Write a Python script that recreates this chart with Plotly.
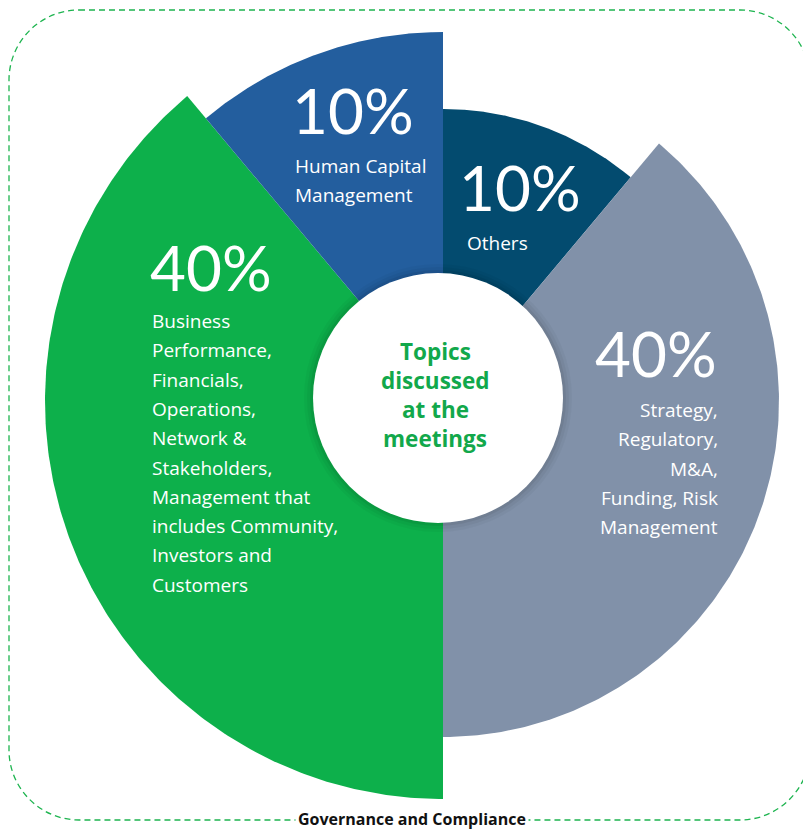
"""
Topics discussed at the meetings - variable radius pie drawn on a pixel-scaled cartesian axis
"""
import numpy as np
import plotly.graph_objects as go

# segments clockwise from 12 o'clock
segments = ["Others", "Strategy", "Business", "Human Capital"]
pct_labels = ["10%", "40%", "40%", "10%"]
spans_deg = [40, 140, 140, 40]          # angular width as drawn in the picture
outer_r = [292, 336, 398, 369]          # outer radius of each wedge
colors = ["#034b6f", "#8191a9", "#0db04b", "#235e9e"]

desc_lines = [
    ["Others"],
    ["Strategy,", "Regulatory,", "M&A,", "Funding, Risk", "Management"],
    ["Business", "Performance,", "Financials,", "Operations,", "Network &", "Stakeholders,",
     "Management that", "includes Community,", "Investors and", "Customers"],
    ["Human Capital", "Management"],
]
center_lines = ["Topics", "discussed", "at the", "meetings"]
footer = "Governance and Compliance"

# page has an 8px body margin, so the figure is 8px smaller and the axes start at 8
OFF = 8
W, H = 811, 829
cx, cy = 443, 401
FONT = "Open Sans"
BIG = "Lato"

fig = go.Figure()

start = 0.0
for name, span, r, col in zip(segments, spans_deg, outer_r, colors):
    th = np.radians(np.linspace(start, start + span, 240))
    xs = np.concatenate([[cx], cx + r * np.sin(th), [cx]])
    ys = np.concatenate([[cy], cy - r * np.cos(th), [cy]])
    fig.add_trace(go.Scatter(x=xs, y=ys, mode="lines", fill="toself", fillcolor=col,
                             line=dict(width=0, color=col), hoverinfo="skip", name=name))
    start += span

# white centre disc with a soft shadow
ccx, ccy, cr = 438, 398, 125
for dr, a in [(9, 0.03), (6, 0.04), (3, 0.06)]:
    fig.add_shape(type="circle", x0=ccx - cr - dr, x1=ccx + cr + dr, y0=ccy - cr - dr, y1=ccy + cr + dr,
                  fillcolor=f"rgba(0,0,0,{a})", line=dict(width=0))
fig.add_shape(type="circle", x0=ccx - cr, x1=ccx + cr, y0=ccy - cr, y1=ccy + cr,
              fillcolor="white", line=dict(width=0))

# dashed rounded frame
x0, x1, y0, y1, rr = 9, 810, 10, 820, 70
k = rr * 0.55
frame = (f"M {x0+rr},{y0} L {x1-rr},{y0} C {x1-rr+k},{y0} {x1},{y0+rr-k} {x1},{y0+rr} "
         f"L {x1},{y1-rr} C {x1},{y1-rr+k} {x1-rr+k},{y1} {x1-rr},{y1} "
         f"L {x0+rr},{y1} C {x0+rr-k},{y1} {x0},{y1-rr+k} {x0},{y1-rr} "
         f"L {x0},{y0+rr} C {x0},{y0+rr-k} {x0+rr-k},{y0} {x0+rr},{y0} Z")
fig.add_shape(type="path", path=frame, line=dict(color="#1db44f", width=1.3, dash="6px,4px"), layer="below")


def txt(x, y, s, size, color="white", anchor="left", bold=False, bg=None, family=FONT):
    fig.add_annotation(x=x, y=y, text=f"<b>{s}</b>" if bold else s, showarrow=False,
                       xanchor=anchor, yanchor="middle", bgcolor=bg, borderpad=2,
                       font=dict(family=family, size=size, color=color))


# big percentages
pct_pos = [(456, 187, "left"), (720, 353, "right"), (147, 267, "left"), (289, 110, "left")]
for lab, (px, py, anc) in zip(pct_labels, pct_pos):
    txt(px, py, lab, 62, anchor=anc, family=BIG)

# descriptions
desc_pos = [(464, 243, "left"), (721, 410, "right"), (149, 321, "left"), (292, 166, "left")]
for lines, (px, py, anc) in zip(desc_lines, desc_pos):
    for i, line in enumerate(lines):
        txt(px, py + i * 29.3, line, 19, anchor=anc)

for i, line in enumerate(center_lines):
    txt(435, 351 + i * 29.3, line, 22.5, color="#12a84b", anchor="center", bold=True)

txt(412, 819, footer, 16, color="#111111", anchor="center", bold=True, bg="white")

fig.update_layout(
    width=W - OFF, height=H - OFF, margin=dict(l=0, r=0, t=0, b=0),
    paper_bgcolor="white", plot_bgcolor="white", showlegend=False,
    xaxis=dict(range=[OFF, W], visible=False, fixedrange=True),
    yaxis=dict(range=[H, OFF], visible=False, fixedrange=True),
)

fig.write_html("out.html")
